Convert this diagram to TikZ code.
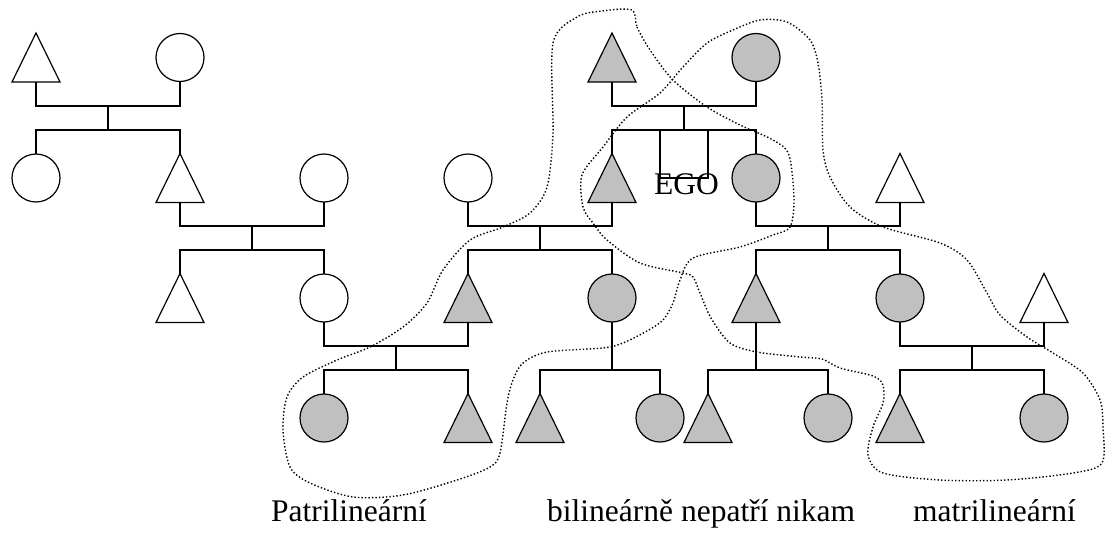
\documentclass[tikz,border=0pt]{standalone}
\usepackage{fontspec}
\setmainfont{Liberation Serif}
\definecolor{kgray}{RGB}{192,192,192}
\tikzset{
  sym/.style={draw=black, line width=1.2pt, inner sep=0pt, outer sep=0pt},
  circ/.style={sym, circle, minimum size=48pt},
  tribox/.style={rectangle, minimum width=48pt, minimum height=49pt, inner sep=0pt, outer sep=0pt},
  kin/.style={draw=black, line width=1.2pt},
  group/.style={draw=black, line width=1.4pt, dash pattern=on 1.4pt off 2.1pt},
  lbl/.style={inner sep=0pt, anchor=base west, font=\fontsize{31.5}{36}\selectfont}
}
\newcommand\Tri[4]{%
  \node[tribox] (#1) at (#2,#3) {};
  \filldraw[kin, fill=#4] (#1.north) -- (#1.south east) -- (#1.south west) -- cycle;}
\newcommand\Circ[4]{%
  \node[circ, fill=#4] (#1) at (#2,#3) {};}
\begin{document}
\begin{tikzpicture}[x=1pt,y=-1pt]
\useasboundingbox (0,0) rectangle (1114,538);
% row 1
\Tri{a1}{36}{57.5}{white}
\Circ{a2}{180}{57.5}{white}
\Tri{d1}{612}{57.5}{kgray}
\Circ{d2}{756}{57.5}{kgray}
% row 2
\Circ{b1}{36}{178}{white}
\Tri{b2}{180}{178}{white}
\Circ{b3}{324}{178}{white}
\Circ{e1}{468}{178}{white}
\Tri{e2}{612}{178}{kgray}
\node[sym, rectangle, minimum size=48pt] (ego) at (684,154) {};
\Circ{e3}{756}{178}{kgray}
\Tri{e4}{900}{178}{white}
% row 3
\Tri{c1}{180}{298}{white}
\Circ{c2}{324}{298}{white}
\Tri{f1}{468}{298}{kgray}
\Circ{f2}{612}{298}{kgray}
\Tri{f3}{756}{298}{kgray}
\Circ{f4}{900}{298}{kgray}
\Tri{f5}{1044}{298}{white}
% row 4
\Circ{g1}{324}{418}{kgray}
\Tri{g2}{468}{418}{kgray}
\Tri{g3}{540}{418}{kgray}
\Circ{g4}{660}{418}{kgray}
\Tri{g5}{708}{418}{kgray}
\Circ{g6}{828}{418}{kgray}
\Tri{g7}{900}{418}{kgray}
\Circ{g8}{1044}{418}{kgray}
% junctions
\coordinate (m1) at (108,106); \coordinate (j1) at (108,130);
\coordinate (m2) at (252,226); \coordinate (j2) at (252,250);
\coordinate (m3) at (684,106); \coordinate (j3) at (684,130);
\coordinate (m4) at (540,226); \coordinate (j4) at (540,250);
\coordinate (m5) at (828,226); \coordinate (j5) at (828,250);
\coordinate (m6) at (396,346); \coordinate (j6) at (396,370);
\coordinate (j7) at (612,370);
\coordinate (j8) at (756,370);
\coordinate (m9) at (972,346); \coordinate (j9) at (972,370);
% connectors
\draw[kin] (a1.south) |- (m1) -| (a2.south); \draw[kin] (m1) -- (j1);
\draw[kin] (b1.north) |- (j1) -| (b2.north);
\draw[kin] (b2.south) |- (m2) -| (b3.south); \draw[kin] (m2) -- (j2);
\draw[kin] (c1.north) |- (j2) -| (c2.north);
\draw[kin] (d1.south) |- (m3) -| (d2.south); \draw[kin] (m3) -- (j3);
\draw[kin] (e2.north) |- (j3) -| (e3.north);
\draw[kin] (e1.south) |- (m4) -| (e2.south); \draw[kin] (m4) -- (j4);
\draw[kin] (f1.north) |- (j4) -| (f2.north);
\draw[kin] (e3.south) |- (m5) -| (e4.south); \draw[kin] (m5) -- (j5);
\draw[kin] (f3.north) |- (j5) -| (f4.north);
\draw[kin] (c2.south) |- (m6) -| (f1.south); \draw[kin] (m6) -- (j6);
\draw[kin] (g1.north) |- (j6) -| (g2.north);
\draw[kin] (f2.south) -- (j7);
\draw[kin] (g3.north) |- (j7) -| (g4.north);
\draw[kin] (f3.south) -- (j8);
\draw[kin] (g5.north) |- (j8) -| (g6.north);
\draw[kin] (f4.south) |- (m9) -| (f5.south); \draw[kin] (m9) -- (j9);
\draw[kin] (g7.north) |- (j9) -| (g8.north);
% EGO label
\node[lbl, anchor=base] (egotxt) at (686.5,194) {EGO};
% group outlines
\draw[group] plot[smooth cycle] coordinates {
 (632,10) (637,27) (650,50) (673,80) (707,107) (740,125) (773,140) (789,155)
 (794,200) (790,227) (773,235) (740,247) (693,258) (680,280) (673,303) (663,320)
 (647,331) (623,343) (603,348) (547,352) (523,363) (513,380) (507,403) (500,453)
 (490,467) (457,480) (403,495) (353,497) (310,483) (290,467) (283,430) (287,397)
 (303,377) (337,360) (370,347) (403,327) (427,303) (443,270) (470,240) (503,227)
 (530,213) (547,187) (553,133) (553,43) (577,17) (602,11)};
\draw[group] plot[smooth cycle] coordinates {
 (760,20) (787,22) (810,40) (818,63) (822,100) (823,150) (830,177) (850,207)
 (883,227) (940,243) (967,260) (987,293) (1000,315) (1027,337) (1053,353) (1083,373)
 (1100,400) (1103,427) (1102,463) (1073,473) (1007,480) (940,480) (883,473) (868,455)
 (873,427) (883,403) (883,385) (873,376) (840,368) (822,359) (800,357) (757,352)
 (730,343) (711,318) (700,293) (693,277) (683,273) (640,263) (607,240) (593,223)
 (583,207) (582,175) (603,147) (627,117) (660,93) (683,67) (707,43) (733,30)};
% labels
\node[lbl] (lp) at (271,521) {Patrilineární};
\node[lbl] (lb) at (547,521) {bilineárně nepatří nikam};
\node[lbl] (lm) at (913,521) {matrilineární};
\end{tikzpicture}
\end{document}
